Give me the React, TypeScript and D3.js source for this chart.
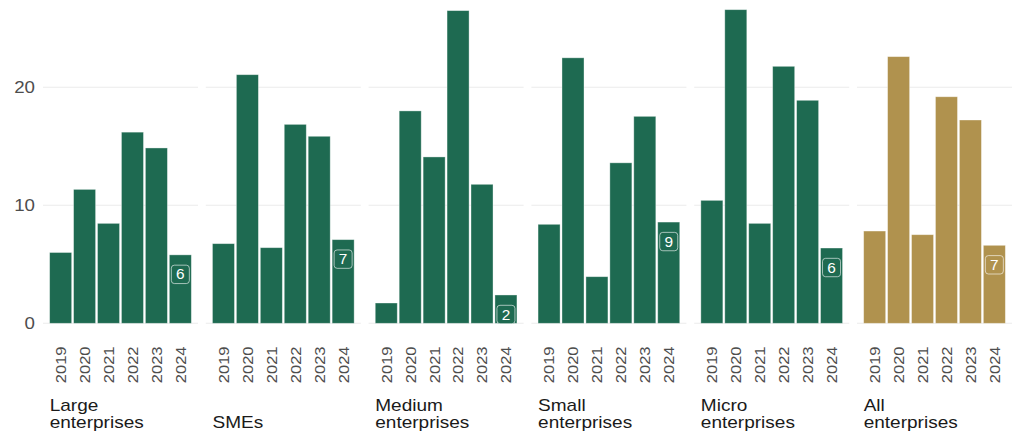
import React from "react";
import * as d3 from "d3";

const categories = ["Large enterprises", "SMEs", "Medium enterprises", "Small enterprises", "Micro enterprises", "All enterprises"];
const categoryLines = [["Large", "enterprises"], ["SMEs"], ["Medium", "enterprises"], ["Small", "enterprises"], ["Micro", "enterprises"], ["All", "enterprises"]];
const years = ["2019", "2020", "2021", "2022", "2023", "2024"];
const largeValues = [6.0, 11.35, 8.47, 16.2, 14.86, 5.8];
const smeValues = [6.75, 21.07, 6.41, 16.86, 15.85, 7.09];
const mediumValues = [1.72, 18.0, 14.1, 26.5, 11.78, 2.4];
const smallValues = [8.39, 22.5, 3.95, 13.6, 17.54, 8.58];
const microValues = [10.42, 26.58, 8.47, 21.78, 18.9, 6.38];
const allValues = [7.82, 22.6, 7.51, 19.2, 17.23, 6.61];
const yTicks = [0, 10, 20];

const seriesValues = [largeValues, smeValues, mediumValues, smallValues, microValues, allValues];

const GREEN = "#1e6a51";
const GOLD = "#b0924e";
const FONT = "'Liberation Sans', Arial, Helvetica, sans-serif";
const SX = 1.1;
const SX_LABEL = 1.12;

export default function App() {
  const width = 1019;
  const height = 439;
  const panel = d3.scaleBand<string>().domain(categories).range([43, 1012]).paddingInner(0.048).paddingOuter(0);
  const x = d3.scaleBand<string>().domain(years).range([0, panel.bandwidth()]).paddingInner(0.08).paddingOuter(0.2775);
  const y = d3.scaleLinear().domain([0, 27.4]).range([323.3, 0]);
  const fmt = d3.format(".0f");

  return (
    <svg width={width} height={height} style={{ position: "absolute", left: 0, top: 0, background: "#fff" }} fontFamily={FONT}>
      {yTicks.map((t) => (
        <text key={"yt" + t} transform={`translate(35,${y(t)}) scale(${SX},1)`} dy="0.36em" textAnchor="end" fontSize={17} fill="#4d4d4d">{t}</text>
      ))}
      {categories.map((cat, ci) => {
        const px = panel(cat)!;
        const vals = seriesValues[ci];
        const color = ci === categories.length - 1 ? GOLD : GREEN;
        const last = vals.length - 1;
        const lx = px + x(years[last])! + x.bandwidth() / 2;
        const ly = y(vals[last]) + 19.5;
        const lines = categoryLines[ci];
        return (
          <g key={cat}>
            {yTicks.map((t) => (
              <line key={"g" + t} x1={px} x2={px + panel.bandwidth()} y1={y(t)} y2={y(t)} stroke="#ebebeb" strokeWidth={1.1} />
            ))}
            {vals.map((v, i) => (
              <rect key={years[i]} x={px + x(years[i])!} y={y(v)} width={x.bandwidth()} height={y(0) - y(v)} fill={color} stroke="rgba(255,255,255,0.45)" strokeWidth={0.8} />
            ))}
            <rect x={lx - 9} y={ly - 9.2} width={18} height={18.4} rx={3} fill={color} stroke="rgba(255,255,255,0.6)" strokeWidth={1} />
            <text transform={`translate(${lx},${ly}) scale(${SX},1)`} dy="0.36em" textAnchor="middle" fontSize={14} fill="#ffffff">{fmt(vals[last])}</text>
            {years.map((yr) => {
              const cx = px + x(yr)! + x.bandwidth() / 2;
              return (
                <text key={"yr" + yr} transform={`translate(${cx},346.5) rotate(-90) scale(${SX},1)`} dy="0.36em" textAnchor="end" fontSize={15} fill="#4d4d4d">{yr}</text>
              );
            })}
            {lines.map((ln, li) => (
              <text key={"l" + li} transform={`translate(${px + x(years[0])!},${427.7 - (lines.length - 1 - li) * 17}) scale(${SX_LABEL},1)`} fontSize={17} fill="#1a1a1a">{ln}</text>
            ))}
          </g>
        );
      })}
    </svg>
  );
}
